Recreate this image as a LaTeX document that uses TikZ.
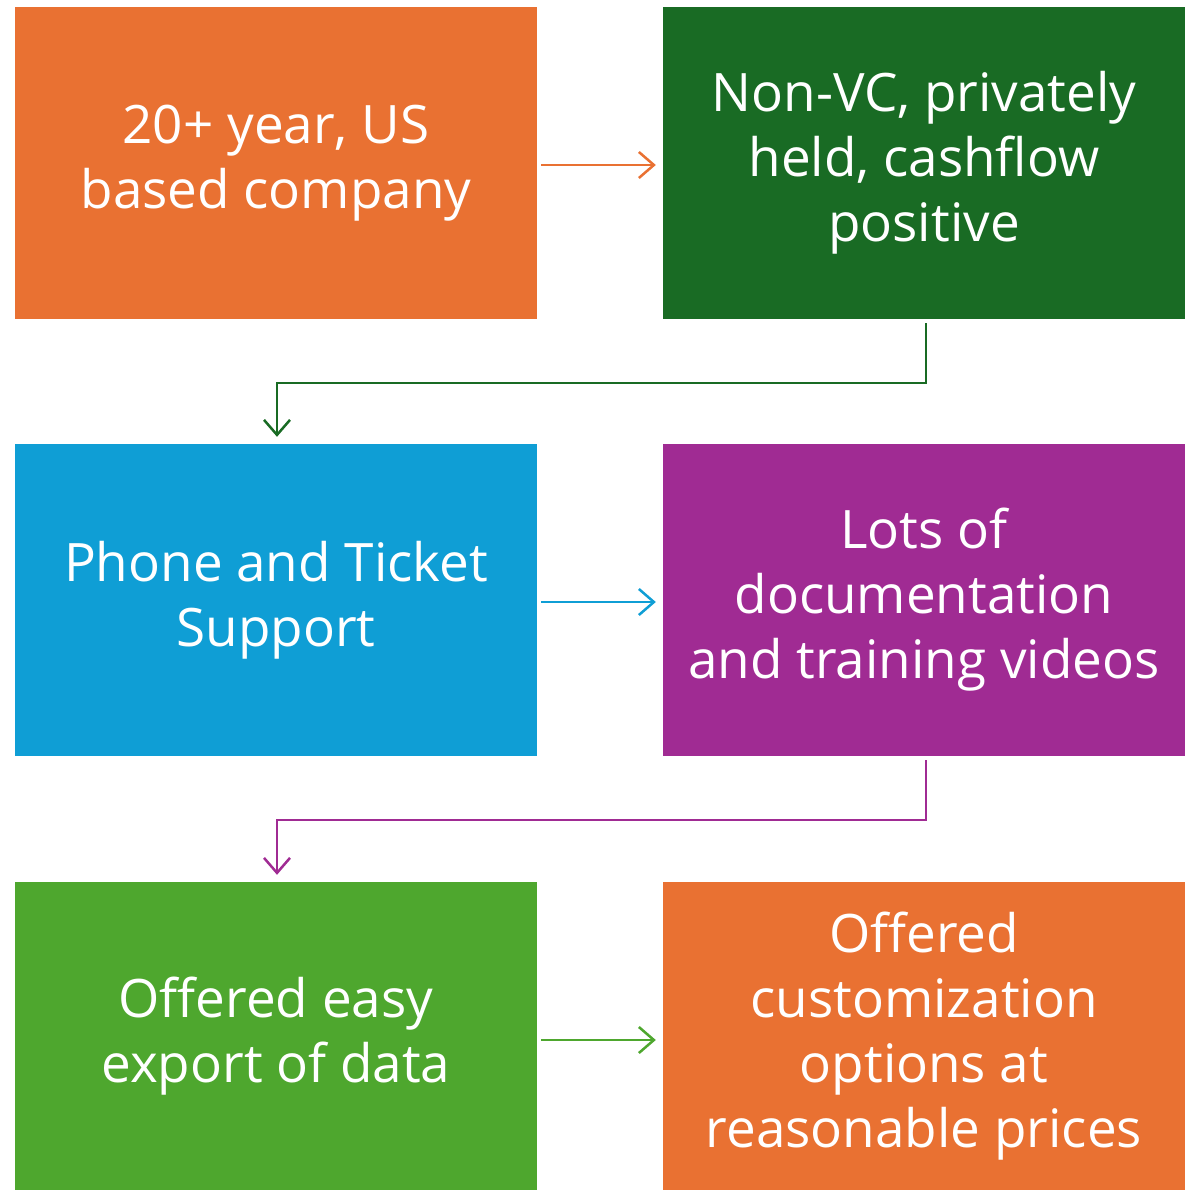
\documentclass[tikz,border=0pt]{standalone}
\usepackage{fontspec}
\setmainfont{Open Sans}
\usetikzlibrary{arrows.meta}
\definecolor{corange}{HTML}{E97132}
\definecolor{cdgreen}{HTML}{196B24}
\definecolor{cblue}{HTML}{0F9ED5}
\definecolor{cpurple}{HTML}{A02B93}
\definecolor{cgreen}{HTML}{4EA72E}
\begin{document}
\begin{tikzpicture}[x=1pt,y=-1pt,
  boxnode/.style={draw=none,minimum width=522pt,minimum height=312pt,inner sep=0pt,
    text=white,align=center,font=\fontsize{53}{65}\selectfont},
  conn/.style={line width=2.5pt,-{Straight Barb[length=15pt,width=26pt,line width=2.5pt]}}]
\useasboundingbox (0,0) rectangle (1194,1190);
\fill[white] (0,0) rectangle (1194,1190);
\node[boxnode,fill=corange] (b1) at (276,163) {20+ year, US\\based company};
\node[boxnode,fill=cdgreen] (b2) at (924,163) {Non-VC, privately\\held, cashflow\\positive};
\node[boxnode,fill=cblue] (b3) at (276,600) {Phone and Ticket\\Support};
\node[boxnode,fill=cpurple] (b4) at (924,600) {Lots of\\documentation\\and training videos};
\node[boxnode,fill=cgreen,minimum height=308pt] (b5) at (276,1036) {Offered easy\\export of data};
\node[boxnode,fill=corange,minimum height=308pt] (b6) at (924,1036) {Offered\\customization\\options at\\reasonable prices};
\draw[conn,corange] ([xshift=4pt,yshift=-2pt]b1.east) -- ([xshift=-7pt,yshift=-2pt]b2.west);
\draw[conn,cblue] ([xshift=4pt,yshift=-2pt]b3.east) -- ([xshift=-7pt,yshift=-2pt]b4.west);
\draw[conn,cgreen] ([xshift=4pt,yshift=-4pt]b5.east) -- ([xshift=-7pt,yshift=-4pt]b6.west);
\draw[conn,cdgreen,line join=miter] ([yshift=-4pt,xshift=2pt]b2.south) -- ++(0,60) -| ([xshift=1pt,yshift=7pt]b3.north);
\draw[conn,cpurple,line join=miter] ([yshift=-4pt,xshift=2pt]b4.south) -- ++(0,60) -| ([xshift=1pt,yshift=7pt]b5.north);
\end{tikzpicture}
\end{document}
